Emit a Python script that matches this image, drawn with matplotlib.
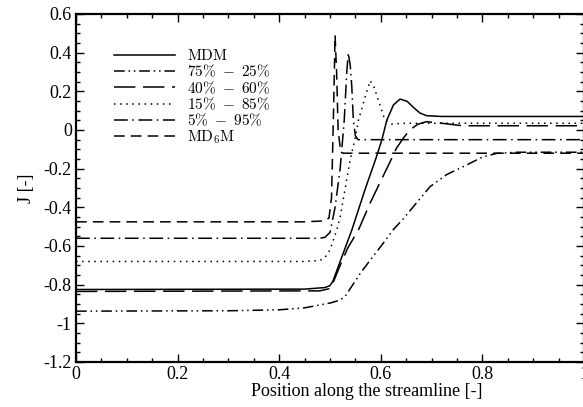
import matplotlib
matplotlib.use("Agg")
import matplotlib.pyplot as plt
from matplotlib.ticker import MultipleLocator

plt.rcParams['font.family'] = ['Liberation Serif', 'DejaVu Serif']
plt.rcParams['mathtext.fontset'] = 'cm'
plt.rcParams['axes.unicode_minus'] = False

# ---- data ----
x_mdm = [0, 0.45, 0.49, 0.5, 0.506, 0.52, 0.543, 0.57, 0.59, 0.602, 0.612, 0.625, 0.638, 0.652, 0.665, 0.677, 0.69, 0.72, 1.0]
y_mdm = [-0.825, -0.823, -0.815, -0.805, -0.78, -0.68, -0.517, -0.3, -0.15, -0.052, 0.052, 0.13, 0.16, 0.148, 0.115, 0.088, 0.074, 0.07, 0.07]

x_7525 = [0, 0.3, 0.4, 0.45, 0.5, 0.52, 0.53, 0.545, 0.56, 0.58, 0.605, 0.624, 0.644, 0.67, 0.697, 0.73, 0.762, 0.8, 0.828, 0.87, 1.0]
y_7525 = [-0.937, -0.935, -0.93, -0.92, -0.895, -0.88, -0.86, -0.8, -0.74, -0.67, -0.585, -0.517, -0.46, -0.378, -0.293, -0.23, -0.19, -0.14, -0.121, -0.115, -0.115]

x_4060 = [0, 0.48, 0.5, 0.506, 0.52, 0.535, 0.556, 0.579, 0.598, 0.618, 0.631, 0.645, 0.657, 0.673, 0.69, 0.72, 0.76, 1.0]
y_4060 = [-0.835, -0.832, -0.82, -0.79, -0.7, -0.61, -0.517, -0.378, -0.274, -0.166, -0.093, -0.04, 0.0, 0.03, 0.043, 0.035, 0.022, 0.022]

x_1585 = [0, 0.45, 0.48, 0.49, 0.5, 0.513, 0.52, 0.53, 0.54, 0.549, 0.556, 0.569, 0.579, 0.587, 0.595, 0.608, 0.621, 0.65, 1.0]
y_1585 = [-0.68, -0.68, -0.675, -0.66, -0.62, -0.52, -0.45, -0.3, -0.15, -0.05, 0.05, 0.17, 0.255, 0.22, 0.155, 0.052, 0.031, 0.035, 0.035]

x_0595 = [0, 0.48, 0.49, 0.5, 0.51, 0.52, 0.528, 0.533, 0.536, 0.54, 0.543, 0.546, 0.55, 0.555, 0.57, 1.0]
y_0595 = [-0.56, -0.56, -0.555, -0.53, -0.4, -0.2, 0.05, 0.3, 0.40, 0.33, 0.22, 0.05, -0.03, -0.05, -0.05, -0.05]

x_md6m = [0, 0.45, 0.49, 0.498, 0.503, 0.507, 0.51, 0.513, 0.516, 0.52, 0.525, 1.0]
y_md6m = [-0.475, -0.475, -0.47, -0.455, -0.35, 0.1, 0.49, 0.3, 0.0, -0.09, -0.12, -0.12]

labels = [r'$\mathrm{MDM}$', r'$75\%\ -\ 25\%$', r'$40\%\ -\ 60\%$',
          r'$15\%\ -\ 85\%$', r'$5\%\ -\ 95\%$', r'$\mathrm{MD_6M}$']

xticks = [0, 0.2, 0.4, 0.6, 0.8, 1.0]
xticklabels = ['0', '0.2', '0.4', '0.6', '0.8', '1']
yticks = [0.6, 0.4, 0.2, 0, -0.2, -0.4, -0.6, -0.8, -1.0, -1.2]
yticklabels = ['0.6', '0.4', '0.2', '0', '-0.2', '-0.4', '-0.6', '-0.8', '-1', '-1.2']

# ---- figure ----
W, H = 583, 407
fig = plt.figure(figsize=(W / 100, H / 100), dpi=100)
ax = fig.add_axes([76 / W, 1 - 362 / H, (584 - 76) / W, (362 - 14) / H])

lw = 1.1
ax.plot(x_mdm, y_mdm, color='black', lw=lw, ls='-', label=labels[0])
ax.plot(x_7525, y_7525, color='black', lw=lw, dashes=[7, 2.5, 1, 2.5, 1, 2.5], label=labels[1])
ax.plot(x_4060, y_4060, color='black', lw=lw, dashes=[14, 5], label=labels[2])
ax.plot(x_1585, y_1585, color='black', lw=lw, dashes=[1, 3], label=labels[3])
ax.plot(x_0595, y_0595, color='black', lw=lw, dashes=[9, 3, 1, 3], label=labels[4])
ax.plot(x_md6m, y_md6m, color='black', lw=lw, dashes=[7, 4], label=labels[5])

ax.set_xlim(0, 1)
ax.set_ylim(-1.2, 0.6)
ax.set_xticks(xticks)
ax.set_xticklabels(xticklabels)
ax.set_yticks(yticks)
ax.set_yticklabels(yticklabels)
ax.xaxis.set_minor_locator(MultipleLocator(0.05))
ax.yaxis.set_minor_locator(MultipleLocator(0.05))
ax.tick_params(which='both', direction='in', top=True, right=True, labelsize=13, width=1.0)
ax.tick_params(which='major', length=6, pad=3)
ax.tick_params(which='minor', length=3)
for s in ax.spines.values():
    s.set_linewidth(1.6)

ax.set_xlabel('Position along the streamline [-]', fontsize=13, labelpad=0)
ax.xaxis.label.set_position(((367 - 76) / 508, 0))
ax.set_ylabel('J [-]', fontsize=13, labelpad=6)

leg = ax.legend(loc='upper left', bbox_to_anchor=((114 - 76) / 508, 1 - (48 - 14) / 348),
                frameon=False, fontsize=11, handlelength=4.0, handletextpad=0.75,
                labelspacing=0.0, borderpad=0, borderaxespad=0)

fig.savefig('out.png', dpi=100)
